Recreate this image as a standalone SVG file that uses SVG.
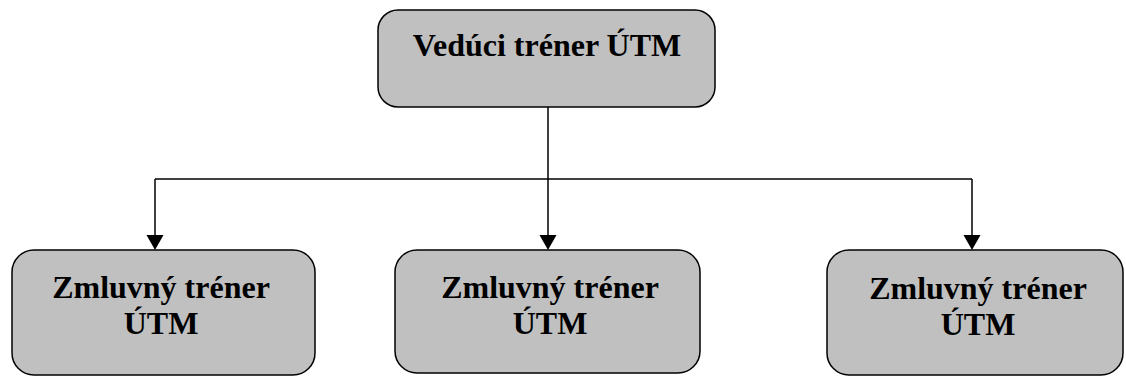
<svg xmlns="http://www.w3.org/2000/svg" width="1126" height="376" viewBox="0 0 1126 376">
<defs>
<style>
.box{fill:#c0c0c0;stroke:#000;stroke-width:1.5}
.lbl{font-family:"Liberation Serif","Times New Roman",serif;font-weight:bold;font-size:32px;fill:#000;text-anchor:middle}
.con{fill:none;stroke:#000;stroke-width:1.5}
</style>
</defs>
<rect width="1126" height="376" fill="#fff"/>
<g id="connectors">
<line class="con" x1="548" y1="107" x2="548" y2="179"/>
<line class="con" x1="155" y1="179" x2="972" y2="179"/>
<path class="con" d="M155,179 V236"/>
<path class="con" d="M548,179 V236"/>
<path class="con" d="M972,179 V236"/>
<path d="M146.5,235 L163.5,235 L155,250 Z" fill="#000"/>
<path d="M539.5,235 L556.5,235 L548,250 Z" fill="#000"/>
<path d="M963.5,235 L980.5,235 L972,250 Z" fill="#000"/>
</g>
<g id="node-top">
<rect class="box" x="378" y="10" width="337" height="97" rx="20" ry="20"/>
<text class="lbl" x="547" y="56">Vedúci tréner ÚTM</text>
</g>
<g id="node-left">
<rect class="box" x="12" y="250" width="303" height="125" rx="22" ry="22"/>
<text class="lbl" x="161" y="298">Zmluvný tréner</text>
<text class="lbl" x="161" y="334">ÚTM</text>
</g>
<g id="node-middle">
<rect class="box" x="395" y="250" width="305" height="123" rx="22" ry="22"/>
<text class="lbl" x="550" y="298">Zmluvný tréner</text>
<text class="lbl" x="550" y="334">ÚTM</text>
</g>
<g id="node-right">
<rect class="box" x="827" y="250" width="296" height="125" rx="22" ry="22"/>
<text class="lbl" x="978" y="299">Zmluvný tréner</text>
<text class="lbl" x="978" y="335">ÚTM</text>
</g>
</svg>
